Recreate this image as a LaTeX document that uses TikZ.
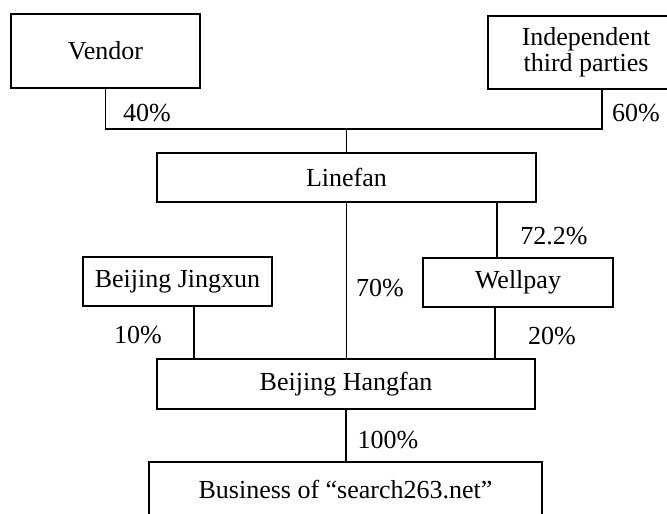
\documentclass[tikz,border=0pt]{standalone}
\usepackage{fontspec}
\setmainfont{Liberation Serif}
\usepackage{tikz}
\usetikzlibrary{positioning}

\tikzset{
  firm/.style={draw, line width=1.2pt, inner sep=0pt, align=center},
  share/.style={inner sep=0pt},
  link/.style={line width=1.2pt}
}

\begin{document}
\begin{tikzpicture}[x=1pt, y=-1pt, font=\fontsize{26}{26}\selectfont]
\useasboundingbox (0,0) rectangle (667,514);
\clip (0,0) rectangle (667,514);
\node[firm, minimum width=189pt, minimum height=74pt] (vendor) at (105.5,51) {Vendor};
\node[firm, minimum width=196pt, minimum height=73pt] (third) at (586,52.5) {Independent\\third parties};
\node[firm, minimum width=379pt, minimum height=49pt] (linefan) at (346.5,177.5) {Linefan};
\node[firm, minimum width=189pt, minimum height=49pt] (jingxun) at (177.5,281.5) {Beijing Jingxun};
\node[firm, minimum width=190pt, minimum height=49pt] (wellpay) at (518,282.5) {Wellpay};
\node[firm, minimum width=378pt, minimum height=50pt] (hangfan) at (346,384) {Beijing Hangfan};
\node[firm, minimum width=393pt, minimum height=56pt] (business) at (345.5,490) {Business of ``search263.net''};
\coordinate (hub) at (346.5,129);
\draw[link] (vendor.south) |- (hub) -| ([xshift=16pt]third.south);
\draw[link] (hub) -- (hub |- linefan.north);
\draw[link] ([xshift=-21pt]wellpay.north) -- ([xshift=-21pt]wellpay.north |- linefan.south);
\draw[link] (linefan.south) -- (linefan.south |- hangfan.north);
\draw[link] ([xshift=16.5pt]jingxun.south) -- ([xshift=16.5pt]jingxun.south |- hangfan.north);
\draw[link] ([xshift=-23pt]wellpay.south) -- ([xshift=-23pt]wellpay.south |- hangfan.north);
\draw[link] (hangfan.south) -- (hangfan.south |- business.north);
\node[share] (s40) at (147,113) {40\%};
\node[share] (s60) at (636,113) {60\%};
\node[share] (s72) at (554,236) {72.2\%};
\node[share] (s70) at (380,288) {70\%};
\node[share] (s10) at (138,335) {10\%};
\node[share] (s20) at (552,336) {20\%};
\node[share] (s100) at (388,440) {100\%};
\end{tikzpicture}
\end{document}
